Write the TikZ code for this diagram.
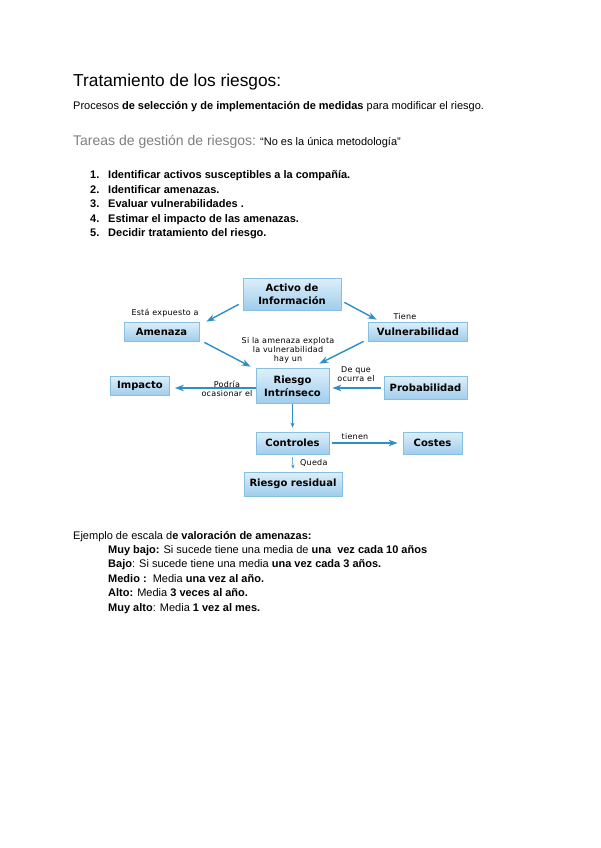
\documentclass[tikz,border=0pt]{standalone}
\usepackage{fontspec}
\setmainfont{Liberation Sans}
\newfontfamily\mapafont{DejaVu Sans}
\newfontfamily\etiqfont[LetterSpace=3]{DejaVu Sans}
\usetikzlibrary{arrows.meta}
\definecolor{bordeazul}{HTML}{86BFE0}
\definecolor{cajaarriba}{HTML}{DDEFFA}
\definecolor{cajaabajo}{HTML}{A0CDEC}
\definecolor{flechazul}{HTML}{2E8EC8}
\definecolor{grisclaro}{HTML}{7F7F7F}

\begin{document}
\begin{tikzpicture}[x=1pt, y=-1pt,
	caja/.style={rectangle, draw=bordeazul, line width=0.8pt, top color=cajaarriba, bottom color=cajaabajo, inner sep=0pt, align=center, font={\mapafont\bfseries\fontsize{10}{13}\selectfont}},
	flecha/.style={draw=flechazul, line width=1.4pt, -{Stealth[length=9pt, width=6.5pt]}},
	flechita/.style={draw=flechazul, line width=0.9pt, -{Stealth[length=5pt, width=4pt]}},
	etiq/.style={inner sep=0pt, align=center, font={\etiqfont\fontsize{8}{9}\selectfont}},
	texto/.style={anchor=base west, inner sep=0pt, font={\fontsize{11}{13}\selectfont}}]
	\useasboundingbox [fill=white] (0,0) rectangle (600,848);

	% encabezado
	\node (titulo) [texto, font={\fontsize{17.3}{20}\selectfont}] at (73,87) {Tratamiento de los riesgos:};
	\node (procesos) [texto] at (73,110) {Procesos \textbf{de selección y de implementación de medidas} para modificar el riesgo.};
	\node (tareas) [texto, text=grisclaro, font={\fontsize{14}{16}\selectfont}] at (73,145) {Tareas de gestión de riesgos:};
	\node (cita) [texto, font={\fontsize{11}{12}\selectfont}] at (260,145) {“No es la única metodología”};

	% lista de tareas
	\node (n1) [texto, font={\bfseries\fontsize{11}{13}\selectfont}] at (90,178.5) {1.};
	\node (n2) [texto, font={\bfseries\fontsize{11}{13}\selectfont}] at (90,193) {2.};
	\node (n3) [texto, font={\bfseries\fontsize{11}{13}\selectfont}] at (90,207.5) {3.};
	\node (n4) [texto, font={\bfseries\fontsize{11}{13}\selectfont}] at (90,222) {4.};
	\node (n5) [texto, font={\bfseries\fontsize{11}{13}\selectfont}] at (90,236.5) {5.};
	\node (t1) [texto, font={\bfseries\fontsize{11}{13}\selectfont}] at (108,178.5) {Identificar activos susceptibles a la compañía.};
	\node (t2) [texto, font={\bfseries\fontsize{11}{13}\selectfont}] at (108,193) {Identificar amenazas.};
	\node (t3) [texto, font={\bfseries\fontsize{11}{13}\selectfont}] at (108,207.5) {Evaluar vulnerabilidades .};
	\node (t4) [texto, font={\bfseries\fontsize{11}{13}\selectfont}] at (108,222) {Estimar el impacto de las amenazas.};
	\node (t5) [texto, font={\bfseries\fontsize{11}{13}\selectfont}] at (108,236.5) {Decidir tratamiento del riesgo.};

	% mapa
	\node (activo) [caja, minimum width=98pt, minimum height=32pt] at (292,294) {Activo de\\Información};
	\node (amenaza) [caja, minimum width=75pt, minimum height=19pt] at (161.5,331.5) {Amenaza};
	\node (vulnera) [caja, minimum width=99pt, minimum height=19pt] at (418,331.5) {Vulnerabilidad};
	\node (impacto) [caja, minimum width=59pt, minimum height=19pt] at (140,386) {Impacto};
	\node (riesgo) [caja, minimum width=73pt, minimum height=35pt] at (292.5,386) {Riesgo\\Intrínseco};
	\node (proba) [caja, minimum width=83pt, minimum height=23pt] at (425.5,388) {Probabilidad};
	\node (controles) [caja, minimum width=73pt, minimum height=22pt] at (292.5,443) {Controles};
	\node (costes) [caja, minimum width=59pt, minimum height=22pt] at (432.5,443) {Costes};
	\node (residual) [caja, minimum width=98pt, minimum height=24pt] at (293,484) {Riesgo residual};

	\draw [flecha] ([shift={(-4pt,6pt)}]activo.south west) -- ([xshift=7pt]amenaza.north east);
	\draw [flecha] ([shift={(3pt,8pt)}]activo.south east) -- ([shift={(8.5pt,2pt)}]vulnera.north west);
	\draw [flecha] ([shift={(5pt,-1pt)}]amenaza.south east) -- ([shift={(-5pt,1.5pt)}]riesgo.north west);
	\draw [flecha] ([xshift=-4.5pt]vulnera.south west) -- ([shift={(-10pt,4.5pt)}]riesgo.north east);
	\draw [flecha] ([yshift=-2pt]riesgo.west) -- ([shift={(5pt,-2pt)}]impacto.east);
	\draw [flecha] ([xshift=-3pt]proba.west) -- ([shift={(3pt,-2pt)}]riesgo.east);
	\draw [flechita] (riesgo.south) -- ([yshift=4pt]controles.north);
	\draw [flecha] ([xshift=3pt]controles.east) -- ([xshift=-5pt]costes.west);
	\draw [flechita, line width=0.6pt, -{Stealth[length=4pt, width=3pt]}] ([yshift=-3pt]controles.south) -- ([yshift=3pt]residual.north);

	\node (expuesto) [etiq] at (165,313) {Está expuesto a};
	\node (tiene) [etiq] at (405,317) {Tiene};
	\node (explota) [etiq] at (288,350) {Si la amenaza explota\\la vulnerabilidad\\hay un};
	\node (podria) [etiq] at (227,388.5) {Podría\\ocasionar el};
	\node (ocurra) [etiq] at (356,374.5) {De que\\ocurra el};
	\node (tienen) [etiq] at (355,437) {tienen};
	\node (queda) [etiq, anchor=west] at (300,463) {Queda};

	% escala de valoracion
	\node (ejemplo) [texto] at (73,539) {Ejemplo de escala d\textbf{e valoración de amenazas:}};
	\node (muybajo) [texto] at (108,553) {\textbf{Muy bajo:} Si sucede tiene una media de \textbf{una\ \ vez cada 10 años}};
	\node (bajo) [texto] at (108,567.5) {\textbf{Bajo}: Si sucede tiene una media \textbf{una vez cada 3 años.}};
	\node (medio) [texto] at (108,582) {\textbf{Medio :}\ \ Media \textbf{una vez al año.}};
	\node (alto) [texto] at (108,596.5) {\textbf{Alto:} Media \textbf{3 veces al año.}};
	\node (muyalto) [texto] at (108,611) {\textbf{Muy alto}: Media \textbf{1 vez al mes.}};
\end{tikzpicture}
\end{document}
